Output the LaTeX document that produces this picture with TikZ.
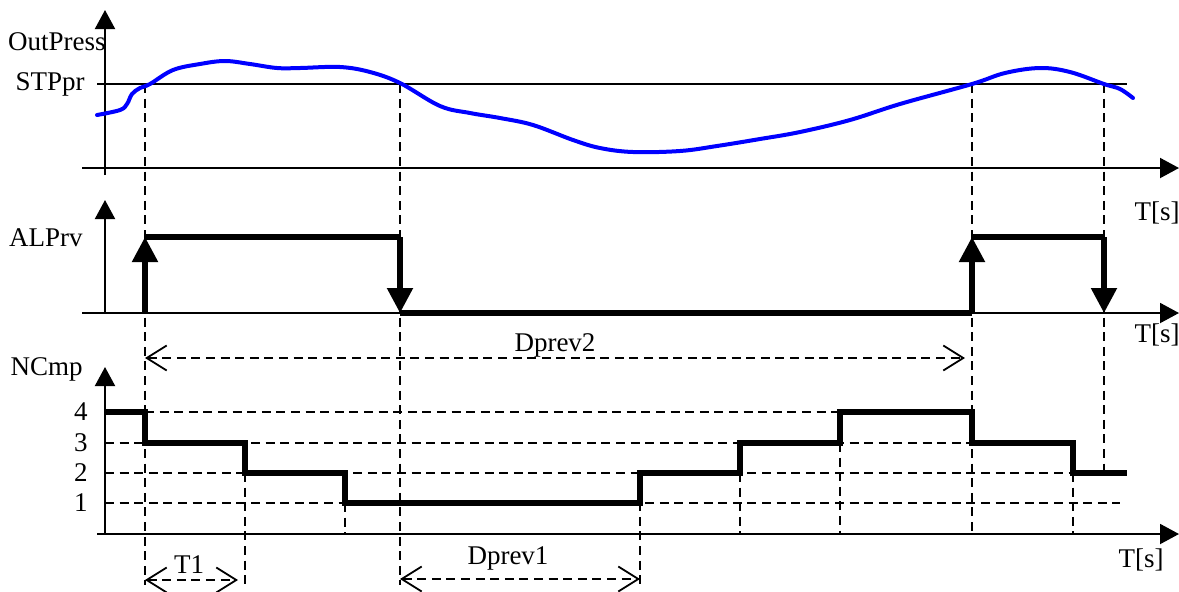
\documentclass[tikz,border=0pt]{standalone}
\usepackage{fontspec}
\setmainfont{Liberation Serif}
\usetikzlibrary{arrows.meta}

\begin{document}
\begin{tikzpicture}[x=0.5pt,y=-0.5pt,
	font=\fontsize{13.5}{15}\selectfont,
	axis/.style={line width=1pt,-{Triangle[length=9.5pt,width=10pt]}},
	guide/.style={line width=0.9pt,dash pattern=on 4.5pt off 2.8pt},
	signal/.style={line width=2.6pt},
	edge/.style={signal,-{Triangle[length=12.5pt,width=12.5pt]}},
	span/.style={guide,{Straight Barb[length=10pt,width=12.5pt]}-{Straight Barb[length=10pt,width=12.5pt]}},
	lbl/.style={inner sep=0pt}]
	
	\useasboundingbox (0,0) rectangle (1179,591);
	
	% axes
	\draw[axis] (105,175) -- (105,10);
	\draw[axis] (82,168) -- (1179,168);
	\draw[axis] (105,313) -- (105,200);
	\draw[axis] (82,313) -- (1179,313);
	\draw[axis] (105,534) -- (105,367);
	\draw[axis] (97,534) -- (1179,534);
	\draw[line width=1pt] (97,84) -- (1127,84);
	
	\node[lbl,anchor=east] (out) at (106,42) {OutPress};
	\node[lbl,anchor=east] (stp) at (85,84) {STPpr};
	\node[lbl,anchor=east] (alp) at (83,238) {ALPrv};
	\node[lbl,anchor=east] (ncmp) at (83,369) {NCmp};
	\node[lbl] (t1s) at (1157,213) {T[s]};
	\node[lbl] (t2s) at (1157,335) {T[s]};
	\node[lbl] (t3s) at (1141,560) {T[s]};
	
	% levels
	\foreach \n/\y/\xa/\xb in {4/412/145/972,3/443/105/1073,2/473/105/1073,1/503/105/1120}{
		\node[lbl,anchor=east] (lev\n) at (88,\y) {\n};
		\draw[guide] (\xa,\y) -- (\xb,\y);
	}
	
	% event lines
	\foreach \x/\ya/\yb in {145/84/585,400/84/585,972/84/534,1104/84/473,
		245/473/585,640/473/585,345/503/534,740/473/534,840/443/534,1073/473/534}
		\draw[guide] (\x,\ya) -- (\x,\yb);
	
	% pressure
	\draw[blue,line width=2pt,line cap=round] plot[smooth,tension=0.6] coordinates {
		(97,115) (120,110) (127,104) (132,94) (140,88) (150,84) (173,70) (200,64)
		(225,61) (250,64) (277,68) (300,68) (340,67) (370,72) (400,83) (440,106)
		(470,113) (500,118) (533,125) (573,140) (600,148) (633,152) (680,151)
		(717,146) (760,139) (800,132) (850,120) (900,104) (972,84) (1005,73)
		(1040,68) (1070,72) (1104,84) (1120,89) (1133,98)};
	
	% alarm
	\coordinate (up1) at (145,237);
	\coordinate (dn1) at (400,313);
	\coordinate (up2) at (972,237);
	\coordinate (dn2) at (1104,313);
	\draw[edge] (145,313) -- (up1);
	\draw[signal] (up1) -- (400,237);
	\draw[edge] (400,237) -- (dn1);
	\draw[signal] (dn1) -- (972,313);
	\draw[edge] (972,313) -- (up2);
	\draw[signal] (up2) -- (1104,237);
	\draw[edge] (1104,237) -- (dn2);
	
	% compressors
	\draw[signal] (105,412) -| (145,443) -| (245,473) -| (345,503) -| (640,473)
		-| (740,443) -| (840,412) -| (972,443) -| (1073,473) -- (1127,473);
	
	% spans
	\node[lbl] (dp2) at (555,345) {Dprev2};
	\node[lbl] (t1) at (189,565) {T1};
	\node[lbl] (dp1) at (508,558) {Dprev1};
	\coordinate (dp2a) at (145,358);
	\coordinate (dp2b) at (965,358);
	\coordinate (t1a) at (145,580);
	\coordinate (t1b) at (238,580);
	\coordinate (dp1a) at (400,579);
	\coordinate (dp1b) at (640,579);
	\draw[span] (dp2a) -- (dp2b);
	\draw[span] (t1a) -- (t1b);
	\draw[span] (dp1a) -- (dp1b);
\end{tikzpicture}
\end{document}
